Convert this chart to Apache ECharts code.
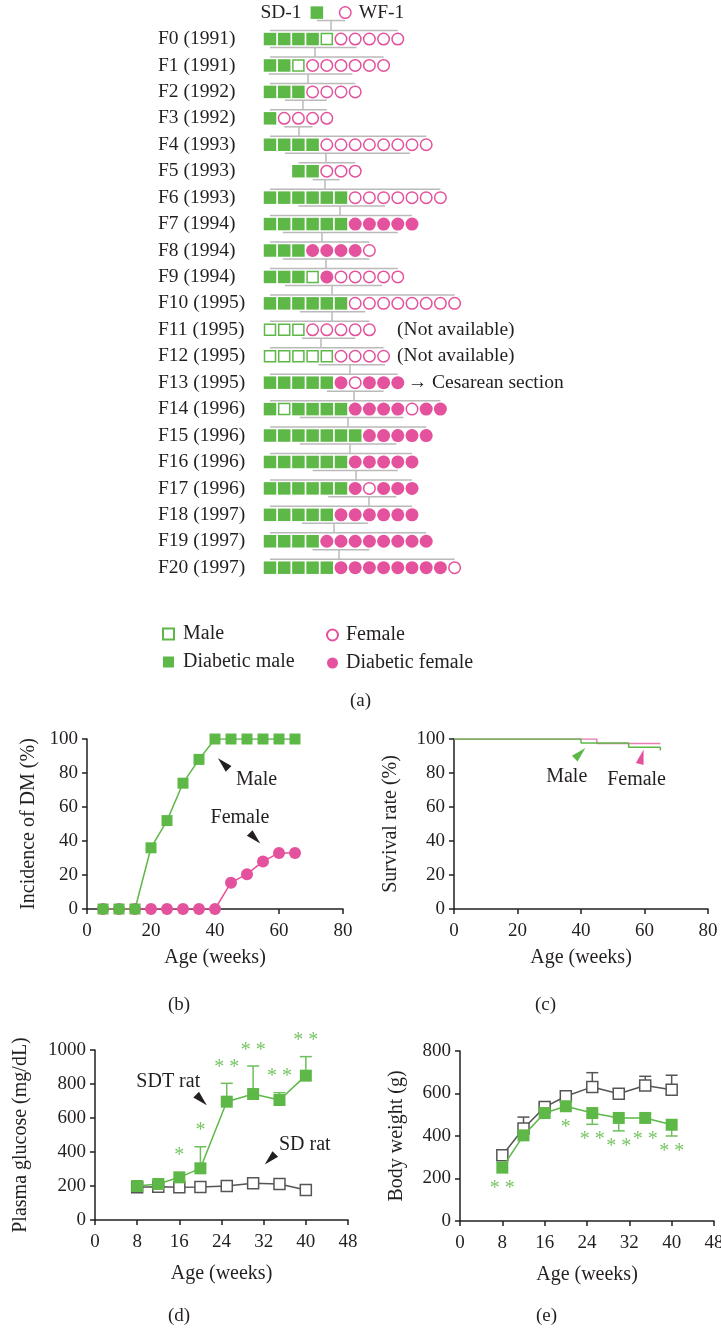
<!DOCTYPE html>
<html>
<head>
<meta charset="utf-8">
<script src="https://cdn.jsdelivr.net/npm/echarts@6/dist/echarts.min.js"></script>
<style>
html, body { margin: 0; padding: 0; background: #fff; }
#main { width: 721px; height: 1331px; }
</style>
</head>
<body>
<div id="main"></div>
<script>
// ---- (a) pedigree ----
var rowLabels = ['F0 (1991)', 'F1 (1991)', 'F2 (1992)', 'F3 (1992)', 'F4 (1993)', 'F5 (1993)', 'F6 (1993)',
    'F7 (1994)', 'F8 (1994)', 'F9 (1994)', 'F10 (1995)', 'F11 (1995)', 'F12 (1995)', 'F13 (1995)',
    'F14 (1996)', 'F15 (1996)', 'F16 (1996)', 'F17 (1996)', 'F18 (1997)', 'F19 (1997)', 'F20 (1997)'];
// S = diabetic male, s = male, C = diabetic female, c = female
var rowPatterns = ['SSSSsccccc', 'SSscccccc', 'SSScccc', 'Scccc', 'SSSScccccccc', 'SSccc', 'SSSSSSccccccc',
    'SSSSSSCCCCC', 'SSSCCCCc', 'SSSsCccccc', 'SSSSSScccccccc', 'sssccccc', 'ssssscccc', 'SSSSSCcCCC',
    'SsSSSSCCCCcCC', 'SSSSSSSCCCCC', 'SSSSSSCCCCC', 'SSSSSSCcCCC', 'SSSSSCCCCCC', 'SSSSCCCCCCCC', 'SSSSSCCCCCCCCc'];
var rowOffsets = [0, 0, 0, 0, 0, 2, 0, 0, 0, 0, 0, 0, 0, 0, 0, 0, 0, 0, 0, 0, 0];
var parentNames = ['SD-1', 'WF-1'];
var parentX = [3.3, 5.3];
// one entry per generation gap: parents->F0, F0->F1 ... F19->F20
var connectorX = [4.3, 3.17, 2.68, 2.32, 2.04, 3.94, 3.87, 4.93, 3.66, 3.94, 4.37, 4.37, 3.59, 5.63, 5.92, 5.49, 5.63, 6.06, 6.97, 4.51, 4.86];
var matingSpans = [[3.3, 5.3], [0, 6.1], [-0.1, 5.8], [1.05, 4.0], [1.0, 3.0], [1.05, 9.86], [3.0, 4.9], [2.0, 8.1],
    [0.9, 9.0], [0.9, 7.0], [1.05, 7.9], [2.1, 6.7], [2.25, 6.0], [3.4, 8.1], [4.0, 8.0], [2.1, 9.4], [2.1, 8.9],
    [3.0, 9.0], [4.1, 8.9], [2.25, 6.9], [3.0, 7.0]];
var noteRows = [11, 12, 13];
var noteTexts = ['(Not available)', '(Not available)', '\u2192 Cesarean section'];

// ---- (b) incidence of DM ----
var incWeeks = [5, 10, 15, 20, 25, 30, 35, 40, 45, 50, 55, 60, 65];
var maleInc = [0, 0, 0, 36, 52, 74, 88, 100, 100, 100, 100, 100, 100];
var femaleInc = [0, 0, 0, 0, 0, 0, 0, 0, 15.5, 20.5, 28, 33, 33];

// ---- (c) survival ----
var survMaleWeeks = [0, 40, 55, 65];
var survMale = [100, 97.6, 95.1, 93.2];
var survFemaleWeeks = [0, 45, 65];
var survFemale = [100, 97.3, 97.3];

// ---- (d) plasma glucose, (e) body weight ----
var ageWeeks = [8, 12, 16, 20, 25, 30, 35, 40];
var sdGlucose = [192, 196, 192, 194, 200, 216, 212, 176];
var sdGlucoseErr = [0, 0, 0, 0, 0, 14, 0, 0];
var sdtGlucose = [200, 212, 251, 304, 696, 741, 706, 849];
var sdtGlucoseErr = [0, 0, 0, 127, 108, 165, 43, 112];
var sdtGlucoseSig = ['', '', '*', '*', '**', '**', '**', '**'];

var sdWeight = [309, 435, 536, 587, 631, 599, 638, 618];
var sdWeightErr = [0, 54, 16, 20, 67, 23, 43, 68];
var sdtWeight = [251, 403, 508, 540, 508, 485, 485, 453];
var sdtWeightErr = [0, 0, 0, 0, 53, 61, 0, 53];
var sdtWeightSig = ['**', '', '', '*', '**', '**', '**', '**'];

var FONT = "'Liberation Serif', 'DejaVu Serif', serif";
var INK = '#231f20';
var GREEN = '#5db847';
var PINK = '#e4519c';
var SIG = '#78c565';
var GREY = '#555555';
var PED_LINE = '#bababa';

function zip(xs, ys) {
    return xs.map(function (x, i) { return [x, ys[i]]; });
}

// pedigree symbols
var groups = { S: [], s: [], C: [], c: [] };
rowPatterns.forEach(function (p, r) {
    for (var j = 0; j < p.length; j++) {
        groups[p[j]].push([rowOffsets[r] + j, r]);
    }
});

// pedigree connecting lines
var lineSegs = [];
for (var g = 0; g < connectorX.length; g++) {
    var r = g - 1;
    var yTop = r + (r < 0 ? 0.3 : 0.32);
    var yBot = r + 1 - 0.32;
    lineSegs.push([matingSpans[g][0], yTop, matingSpans[g][1], yTop]);
    lineSegs.push([connectorX[g], yTop, connectorX[g], yBot]);
    var first = rowOffsets[r + 1];
    var last = first + rowPatterns[r + 1].length - 1;
    lineSegs.push([first, yBot, last, yBot]);
}

function valueAxis(gridIndex, min, max, interval, extra) {
    var ax = {
        type: 'value', gridIndex: gridIndex, min: min, max: max, interval: interval,
        axisLine: { show: true, onZero: false, lineStyle: { color: INK, width: 1.5 } },
        axisTick: { show: true, length: 5, lineStyle: { color: INK, width: 1.5 } },
        splitLine: { show: false },
        nameLocation: 'middle',
        nameTextStyle: { color: INK, fontFamily: FONT, fontSize: 20 }
    };
    for (var k in extra) ax[k] = extra[k];
    return ax;
}
function tickLabels(margin) {
    return { color: INK, fontFamily: FONT, fontSize: 19, margin: margin, formatter: function (v) { return String(v); } };
}

function errorSeries(xi, yi, means, errs, dir, color) {
    return {
        type: 'custom', xAxisIndex: xi, yAxisIndex: yi, z: 1, silent: true,
        data: ageWeeks.map(function (w, i) { return [w, means[i], errs[i]]; }),
        renderItem: function (params, api) {
            var err = api.value(2);
            if (!err) return { type: 'group', children: [] };
            var p0 = api.coord([api.value(0), api.value(1)]);
            var p1 = api.coord([api.value(0), api.value(1) + dir * err]);
            var st = { stroke: color, lineWidth: 1.5 };
            return {
                type: 'group', children: [
                    { type: 'line', shape: { x1: p0[0], y1: p0[1], x2: p1[0], y2: p1[1] }, style: st },
                    { type: 'line', shape: { x1: p1[0] - 6, y1: p1[1], x2: p1[0] + 6, y2: p1[1] }, style: st }
                ]
            };
        }
    };
}

function sigSeries(xi, yi, means, errs, marks, dir) {
    return {
        type: 'custom', xAxisIndex: xi, yAxisIndex: yi, z: 5, silent: true,
        data: ageWeeks.map(function (w, i) { return [w, means[i], errs[i]]; }),
        renderItem: function (params, api) {
            var txt = marks[params.dataIndex];
            if (!txt) return { type: 'group', children: [] };
            var p = api.coord([api.value(0), api.value(1)]);
            var pe = api.coord([api.value(0), api.value(1) + dir * api.value(2)]);
            var y = dir > 0 ? Math.min(pe[1], p[1] - 6) - 15.5 : Math.max(pe[1], p[1] + 6) + 15.5;
            return {
                type: 'text', x: p[0], y: y,
                style: { text: txt.split('').join(' '), fill: SIG, fontFamily: FONT, fontSize: 20, align: 'center', verticalAlign: 'middle' }
            };
        }
    };
}

// arrowheads and their captions, placed in data coordinates
function annot(xi, yi, items) {
    return {
        type: 'scatter', name: 'annotations', xAxisIndex: xi, yAxisIndex: yi, z: 6, silent: true,
        itemStyle: { opacity: 1 },
        data: items.map(function (it) {
            if (it.text) {
                return {
                    value: it.at, symbolSize: 0,
                    label: { show: true, position: 'inside', formatter: it.text, color: INK, fontFamily: FONT, fontSize: 20 }
                };
            }
            return {
                value: it.at, symbol: 'triangle', symbolSize: [8, 15], symbolRotate: it.rotate,
                itemStyle: { color: it.color || INK, opacity: 1 }
            };
        })
    };
}

var dom = document.getElementById('main');
var myChart = echarts.init(dom, null, { renderer: 'canvas' });
var option;
option = {
    animation: false,
    backgroundColor: '#fff',
    textStyle: { fontFamily: FONT },
    grid: [
        { left: 255.8, top: 12.6, width: 298.2, height: 555.1, outerBoundsMode: 'none' },
        { left: 87, top: 739, width: 256, height: 170, outerBoundsMode: 'none' },
        { left: 454, top: 739, width: 254, height: 170, outerBoundsMode: 'none' },
        { left: 95, top: 1050, width: 253, height: 170, outerBoundsMode: 'none' },
        { left: 460, top: 1051, width: 254, height: 170, outerBoundsMode: 'none' }
    ],
    legend: [
        {
            data: ['Male', 'Diabetic male'], orient: 'vertical', left: 157, top: 619,
            itemWidth: 11, itemHeight: 11, itemGap: 8, selectedMode: false,
            textStyle: { color: INK, fontFamily: FONT, fontSize: 20, padding: [0, 0, 0, 4] }
        },
        {
            data: ['Female', 'Diabetic female'], orient: 'vertical', left: 321, top: 620,
            itemWidth: 11, itemHeight: 11, itemGap: 8, selectedMode: false,
            textStyle: { color: INK, fontFamily: FONT, fontSize: 20, padding: [0, 0, 0, 3] }
        }
    ],
    graphic: [
        { type: 'text', left: 'center', top: 692, style: { text: '(a)', fill: INK, fontFamily: FONT, fontSize: 19 } },
        { type: 'text', left: 168, top: 996, style: { text: '(b)', fill: INK, fontFamily: FONT, fontSize: 19 } },
        { type: 'text', left: 535, top: 996, style: { text: '(c)', fill: INK, fontFamily: FONT, fontSize: 19 } },
        { type: 'text', left: 168, top: 1307, style: { text: '(d)', fill: INK, fontFamily: FONT, fontSize: 19 } },
        { type: 'text', left: 536, top: 1307, style: { text: '(e)', fill: INK, fontFamily: FONT, fontSize: 19 } }
    ],
    xAxis: [
        { type: 'value', gridIndex: 0, min: -1, max: 20, show: false },
        valueAxis(1, 0, 80, 20, { name: 'Age (weeks)', nameGap: 39, axisLabel: tickLabels(13) }),
        valueAxis(2, 0, 80, 20, { name: 'Age (weeks)', nameGap: 39, axisLabel: tickLabels(13) }),
        valueAxis(3, 0, 48, 8, { name: 'Age (weeks)', nameGap: 44, axisLabel: tickLabels(13) }),
        valueAxis(4, 0, 48, 8, { name: 'Age (weeks)', nameGap: 44, axisLabel: tickLabels(13) })
    ],
    yAxis: [
        {
            type: 'value', gridIndex: 0, min: -1, max: 20, interval: 1, inverse: true,
            axisLine: { show: false }, axisTick: { show: false }, splitLine: { show: false },
            axisLabel: {
                show: true, align: 'left', margin: 97.8, color: INK, fontFamily: FONT, fontSize: 19.5,
                formatter: function (v) { return v >= 0 ? (rowLabels[v] || '') : ''; }
            }
        },
        valueAxis(1, 0, 100, 20, { name: 'Incidence of DM (%)', nameGap: 48, axisLabel: tickLabels(9) }),
        valueAxis(2, 0, 100, 20, { name: 'Survival rate (%)', nameGap: 53, axisLabel: tickLabels(9) }),
        valueAxis(3, 0, 1000, 200, { name: 'Plasma glucose (mg/dL)', nameGap: 64, axisLabel: tickLabels(9) }),
        valueAxis(4, 0, 800, 200, { name: 'Body weight (g)', nameGap: 53, axisLabel: tickLabels(9) })
    ],
    series: [
        // (a) pedigree
        {
            type: 'custom', name: 'lines', xAxisIndex: 0, yAxisIndex: 0, z: 1, silent: true,
            data: lineSegs,
            renderItem: function (params, api) {
                var a = api.coord([api.value(0), api.value(1)]);
                var b = api.coord([api.value(2), api.value(3)]);
                return { type: 'line', shape: { x1: a[0], y1: a[1], x2: b[0], y2: b[1] }, style: { stroke: PED_LINE, lineWidth: 1.5 } };
            }
        },
        {
            type: 'scatter', name: 'Male', xAxisIndex: 0, yAxisIndex: 0, z: 3, symbol: 'rect', symbolSize: 11,
            itemStyle: { color: '#fff', borderColor: GREEN, borderWidth: 1.5, opacity: 1 }, data: groups.s
        },
        {
            type: 'scatter', name: 'Diabetic male', xAxisIndex: 0, yAxisIndex: 0, z: 3, symbol: 'rect', symbolSize: 12.5,
            itemStyle: { color: GREEN, opacity: 1 }, data: groups.S
        },
        {
            type: 'scatter', name: 'Female', xAxisIndex: 0, yAxisIndex: 0, z: 3, symbol: 'circle', symbolSize: 11.5,
            itemStyle: { color: '#fff', borderColor: PINK, borderWidth: 1.5, opacity: 1 }, data: groups.c
        },
        {
            type: 'scatter', name: 'Diabetic female', xAxisIndex: 0, yAxisIndex: 0, z: 3, symbol: 'circle', symbolSize: 13,
            itemStyle: { color: PINK, opacity: 1 }, data: groups.C
        },
        {
            type: 'scatter', name: 'parents', xAxisIndex: 0, yAxisIndex: 0, z: 3, itemStyle: { opacity: 1 },
            data: [
                {
                    value: [parentX[0], -1], symbol: 'rect', symbolSize: 12.5, itemStyle: { color: GREEN, opacity: 1 },
                    label: { show: true, position: 'left', distance: 9, formatter: parentNames[0], color: INK, fontFamily: FONT, fontSize: 19.5 }
                },
                {
                    value: [parentX[1], -1], symbol: 'circle', symbolSize: 11.5, itemStyle: { color: '#fff', borderColor: PINK, borderWidth: 1.5, opacity: 1 },
                    label: { show: true, position: 'right', distance: 7, formatter: parentNames[1], color: INK, fontFamily: FONT, fontSize: 19.5 }
                }
            ]
        },
        {
            type: 'scatter', name: 'notes', xAxisIndex: 0, yAxisIndex: 0, symbolSize: 0, itemStyle: { opacity: 1 },
            data: noteRows.map(function (r, i) {
                return {
                    value: [i < 2 ? 8.95 : 9.7, r],
                    label: { show: true, position: 'right', distance: 0, formatter: noteTexts[i], color: INK, fontFamily: FONT, fontSize: 19.5 }
                };
            })
        },
        // (b) incidence of DM
        {
            type: 'line', name: 'Female incidence', xAxisIndex: 1, yAxisIndex: 1,
            data: zip(incWeeks, femaleInc), symbol: 'circle', symbolSize: 12,
            itemStyle: { color: PINK }, lineStyle: { color: PINK, width: 1.5 }
        },
        {
            type: 'line', name: 'Male incidence', xAxisIndex: 1, yAxisIndex: 1,
            data: zip(incWeeks, maleInc), symbol: 'rect', symbolSize: 11,
            itemStyle: { color: GREEN }, lineStyle: { color: GREEN, width: 1.5 }
        },
        annot(1, 1, [
            { at: [42.6, 85.5], rotate: 45 }, { at: [53, 76.3], text: 'Male' },
            { at: [52.5, 41.6], rotate: -135 }, { at: [47.8, 53.9], text: 'Female' }
        ]),
        // (c) survival
        {
            type: 'line', name: 'Female survival', xAxisIndex: 2, yAxisIndex: 2, step: 'end', showSymbol: false,
            data: zip(survFemaleWeeks, survFemale), lineStyle: { color: '#e77fb4', width: 1.5 }
        },
        {
            type: 'line', name: 'Male survival', xAxisIndex: 2, yAxisIndex: 2, step: 'end', showSymbol: false,
            data: zip(survMaleWeeks, survMale), lineStyle: { color: GREEN, width: 1.5 }
        },
        annot(2, 2, [
            { at: [39.7, 91.6], rotate: -45, color: GREEN }, { at: [35.5, 77.8], text: 'Male' },
            { at: [59.1, 89.6], rotate: -15, color: PINK }, { at: [57.5, 75.9], text: 'Female' }
        ]),
        // (d) plasma glucose
        errorSeries(3, 3, sdGlucose, sdGlucoseErr, 1, GREY),
        errorSeries(3, 3, sdtGlucose, sdtGlucoseErr, 1, '#6cc05a'),
        {
            type: 'line', name: 'SD glucose', xAxisIndex: 3, yAxisIndex: 3, z: 2,
            data: zip(ageWeeks, sdGlucose), symbol: 'rect', symbolSize: 11,
            itemStyle: { color: '#fff', borderColor: GREY, borderWidth: 1.5 }, lineStyle: { color: GREY, width: 1.5 }
        },
        {
            type: 'line', name: 'SDT glucose', xAxisIndex: 3, yAxisIndex: 3, z: 3,
            data: zip(ageWeeks, sdtGlucose), symbol: 'rect', symbolSize: 12,
            itemStyle: { color: GREEN }, lineStyle: { color: GREEN, width: 1.5 }
        },
        sigSeries(3, 3, sdtGlucose, sdtGlucoseErr, sdtGlucoseSig, 1),
        annot(3, 3, [
            { at: [20.2, 706], rotate: -135 }, { at: [13.9, 813], text: 'SDT rat' },
            { at: [33.2, 357], rotate: 135 }, { at: [39.8, 441], text: 'SD rat' }
        ]),
        // (e) body weight
        errorSeries(4, 4, sdWeight, sdWeightErr, 1, GREY),
        errorSeries(4, 4, sdtWeight, sdtWeightErr, -1, '#6cc05a'),
        {
            type: 'line', name: 'SD weight', xAxisIndex: 4, yAxisIndex: 4, z: 2,
            data: zip(ageWeeks, sdWeight), symbol: 'rect', symbolSize: 11,
            itemStyle: { color: '#fff', borderColor: GREY, borderWidth: 1.5 }, lineStyle: { color: GREY, width: 1.5 }
        },
        {
            type: 'line', name: 'SDT weight', xAxisIndex: 4, yAxisIndex: 4, z: 3,
            data: zip(ageWeeks, sdtWeight), symbol: 'rect', symbolSize: 12,
            itemStyle: { color: GREEN }, lineStyle: { color: GREEN, width: 1.5 }
        },
        sigSeries(4, 4, sdtWeight, sdtWeightErr, sdtWeightSig, -1)
    ]
};

if (option && typeof option === 'object') {
    myChart.setOption(option);
}
</script>
</body>
</html>
